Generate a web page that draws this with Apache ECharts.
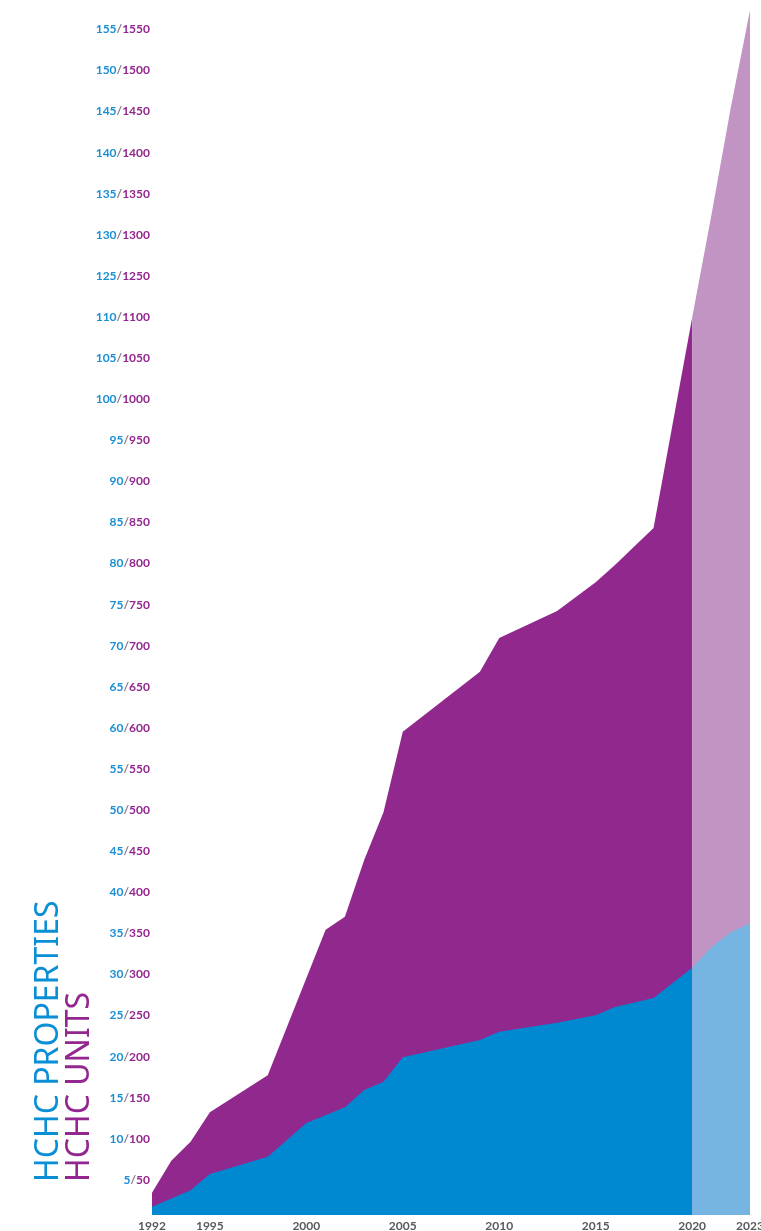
<!DOCTYPE html>
<html>
<head>
<meta charset="utf-8">
<script src="https://cdn.jsdelivr.net/npm/echarts@6/dist/echarts.min.js"></script>
<style>
html,body{margin:0;padding:0;background:#fff;overflow:hidden;width:100%;height:100%;}
#c{position:absolute;left:0;top:0;width:761px;height:1231px;}
</style>
</head>
<body>
<div id="c"></div>
<script>
// ---- data ----
var yTickLabels = ['5/50','10/100','15/150','20/200','25/250','30/300','35/350','40/400','45/450','50/500',
  '55/550','60/600','65/650','70/700','75/750','80/800','85/850','90/900','95/950','100/1000',
  '105/1050','110/1100','125/1250','130/1300','135/1350','140/1400','145/1450','150/1500','155/1550'];
var xTickYears = [1992, 1995, 2000, 2005, 2010, 2015, 2020, 2023];

// HCHC units (plotted at units/10 on the shared axis)
var unitYears = [1992, 1993, 1994, 1995, 1998, 2001, 2002, 2003, 2004, 2005, 2009, 2010, 2013, 2015, 2016, 2018, 2020];
var unitValues = [27, 66, 89, 125, 170, 347, 363, 432, 490, 588, 661, 702, 735, 770, 791, 836, 1092];
var unitProjYears = [2020, 2021, 2022, 2023];
var unitProjValues = [1092, 1217, 1347, 1466];

// HCHC properties
var propYears = [1992, 1994, 1995, 1998, 2000, 2002, 2003, 2004, 2005, 2009, 2010, 2013, 2015, 2016, 2018, 2020];
var propValues = [1.0, 3.0, 5.0, 7.1, 11.2, 13.1, 15.2, 16.2, 19.2, 21.3, 22.3, 23.4, 24.3, 25.3, 26.4, 30.1];
var propProjYears = [2020, 2021, 2022, 2023];
var propProjValues = [30.1, 32.6, 34.4, 35.5];

// ---- build ----
function pairs(xs, ys, scale) {
  return xs.map(function (x, i) { return [x, ys[i] / scale]; });
}
var BLUE = '#0088d1', PURPLE = '#91288d', LBLUE = '#76b4e2', LPURPLE = '#c194c4';
var FONT = 'Lato, "Open Sans", sans-serif';
var TITLE_FONT = '"Noto Sans", Lato, sans-serif';

function areaSeries(name, data, color, z) {
  return {
    name: name, type: 'line', data: data, z: z,
    symbol: 'none', showSymbol: false, silent: true,
    lineStyle: { width: 0 },
    areaStyle: { color: color, opacity: 1 },
    itemStyle: { color: color }
  };
}

var chart = echarts.init(document.getElementById('c'), null, { renderer: 'canvas', width: 761, height: 1231 });
chart.setOption({
  animation: false,
  backgroundColor: '#ffffff',
  grid: { left: 152, right: 11, top: 7, bottom: 16, containLabel: false, outerBoundsMode: 'none' },
  xAxis: {
    type: 'value', min: 1992, max: 2023, interval: 1,
    axisLine: { show: false }, axisTick: { show: false }, splitLine: { show: false },
    axisLabel: {
      margin: 5, fontSize: 12, fontWeight: 'bold', color: '#58595b', fontFamily: FONT,
      formatter: function (v) { return xTickYears.indexOf(v) >= 0 ? String(v) : ''; }
    }
  },
  yAxis: {
    type: 'value', min: 0, max: 147, interval: 5,
    axisLine: { show: false }, axisTick: { show: false }, splitLine: { show: false },
    axisLabel: {
      margin: 2, padding: [12, 0, 0, 0],
      formatter: function (v) {
        if (v <= 0 || v % 5 !== 0) return '';
        var t = yTickLabels[v / 5 - 1];
        if (!t) return '';
        var p = t.split('/');
        return '{b|' + p[0] + '}{s|/}{p|' + p[1] + '}';
      },
      rich: {
        b: { color: '#1b8fd6', fontSize: 12, fontWeight: 'bold', fontFamily: FONT },
        s: { color: '#8b7a8d', fontSize: 12, fontWeight: 'bold', fontFamily: FONT },
        p: { color: '#93278f', fontSize: 12, fontWeight: 'bold', fontFamily: FONT }
      }
    }
  },
  series: [
    areaSeries('HCHC Units', pairs(unitYears, unitValues, 10), PURPLE, 1),
    areaSeries('HCHC Units (projected)', pairs(unitProjYears, unitProjValues, 10), LPURPLE, 2),
    areaSeries('HCHC Properties', pairs(propYears, propValues, 1), BLUE, 3),
    areaSeries('HCHC Properties (projected)', pairs(propProjYears, propProjValues, 1), LBLUE, 4)
  ],
  graphic: [
    { type: 'text', x: 49, y: 1182, rotation: Math.PI / 2,
      style: { text: 'HCHC PROPERTIES', fill: '#0a8ed6', fontSize: 32, fontFamily: TITLE_FONT, align: 'left', verticalAlign: 'middle' } },
    { type: 'text', x: 79.5, y: 1182, rotation: Math.PI / 2,
      style: { text: 'HCHC UNITS', fill: '#93278f', fontSize: 32, fontFamily: TITLE_FONT, align: 'left', verticalAlign: 'middle' } }
  ]
});
</script>
</body>
</html>
